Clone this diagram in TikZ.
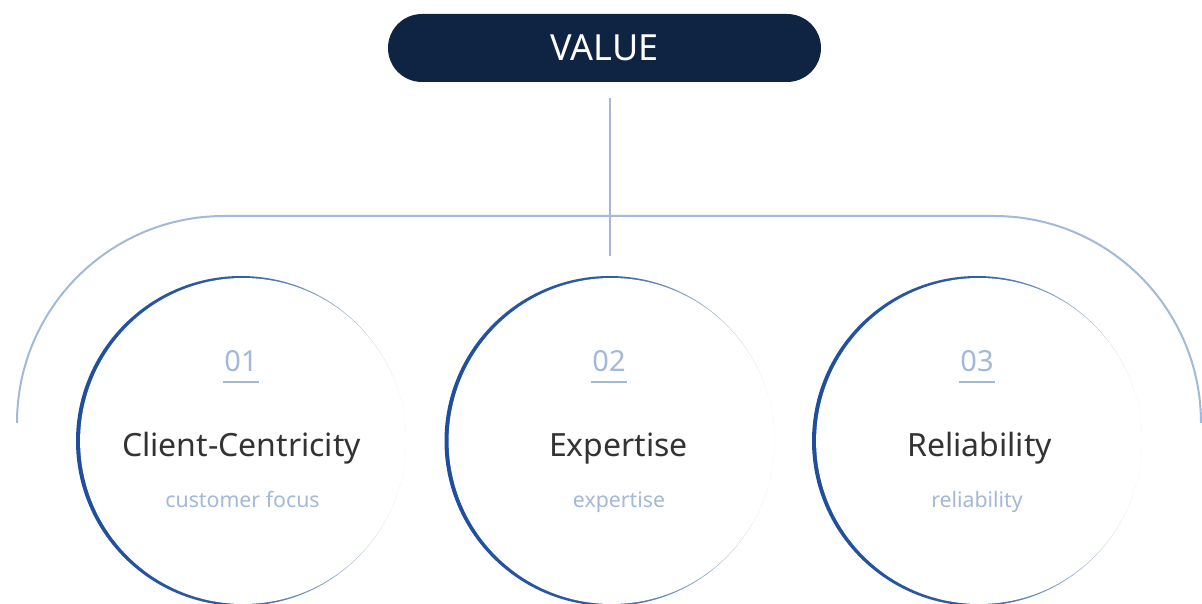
\documentclass[tikz,border=0pt]{standalone}
\usepackage{fontspec}
\setmainfont{Noto Sans}
\definecolor{navy}{HTML}{0F2342}
\definecolor{ltblue}{HTML}{A2B9D7}
\definecolor{ring}{HTML}{1E4E9C}
\definecolor{txt}{HTML}{333333}
\tikzset{
  numtxt/.style={text=ltblue, font=\fontsize{29}{29}\selectfont, inner sep=0pt, anchor=base},
  titletxt/.style={text=txt, font=\fontsize{32}{32}\selectfont, inner sep=0pt, anchor=base},
  subtxt/.style={text=ltblue, font=\fontsize{21.3}{21.3}\selectfont, inner sep=0pt, anchor=base},
  conn/.style={draw=ltblue, line width=2pt},
  uline/.style={draw=ltblue, line width=1.6pt},
}
\begin{document}
\begin{tikzpicture}[x=1pt,y=1pt]
\useasboundingbox (0,0) rectangle (1202,603);
\clip (0,0) rectangle (1202,603);
% top pill
\node[fill=navy, rounded corners=34pt, minimum width=433pt, minimum height=68pt, inner sep=0pt,
      text=white, font=\fontsize{36}{36}\selectfont] (value) at (604.5,555) {VALUE};
% big outer arc
\coordinate (la) at (17,180);
\coordinate (ra) at (1201,180);
\coordinate (hub) at (609.5,347);
\draw[conn] (la) arc (180:90:207) -- (994,387) arc (90:0:207);
\draw[conn] ([yshift=-16pt]value.south -| hub) -- (hub);
% circles (crescent rings)
\foreach \cx in {241,609.5,977}{
  \begin{scope}
    \clip[rotate around={45:(\cx,162)}] (\cx,162) circle (165);
    \shade[left color=ring, right color=ring!14, middle color=ring!92]
      (\cx-166,-5) rectangle (\cx+166,329);
  \end{scope}
  \fill[white, rotate around={45:(\cx+2.1,162)}] (\cx+2.1,162) circle (163);
}
% texts
\node[numtxt] (n1) at (241,231) {01};
\node[numtxt] (n2) at (609,231) {02};
\node[numtxt] (n3) at (977,231) {03};
\foreach \n in {n1,n2,n3}{
  \draw[uline] ([yshift=-10pt,xshift=-1pt]\n.base west) -- ([yshift=-10pt,xshift=1pt]\n.base east);
}
\node[titletxt] (t1) at (241.5,147) {Client-Centricity};
\node[titletxt] (t2) at (618.5,147) {Expertise};
\node[titletxt] (t3) at (979.5,147) {Reliability};
\node[subtxt] (s1) at (242.5,96) {customer focus};
\node[subtxt] (s2) at (619,96) {expertise};
\node[subtxt] (s3) at (977,96) {reliability};
\end{tikzpicture}
\end{document}
